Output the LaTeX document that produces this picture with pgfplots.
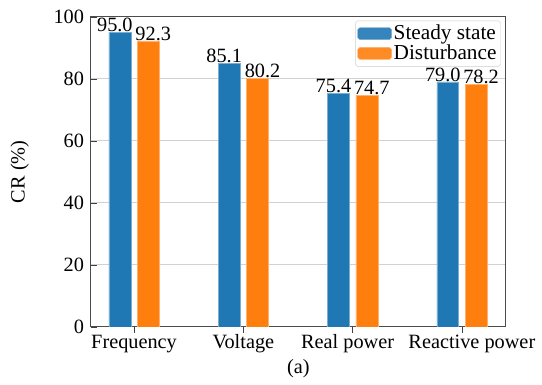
\documentclass[border=0pt]{standalone}
\usepackage{pgfplots}
\pgfplotsset{compat=1.18}
\usepackage{fontspec}
\setmainfont{Liberation Serif}
\definecolor{cblue}{HTML}{1F77B4}
\definecolor{corange}{HTML}{FF7F0E}
\newcommand{\fs}{\fontsize{20.5}{24}\selectfont}
\begin{document}
\fs
\begin{tikzpicture}
\path (0,0) rectangle (542bp,376bp);
\begin{axis}[
  at={(91.5bp,47bp)}, anchor=south west,
  scale only axis,
  width=417.5bp, height=312bp,
  xmin=-0.395, xmax=3.4,
  ymin=0, ymax=100,
  xtick={0,1,2,3},
  xticklabels={Frequency,Voltage,\hspace*{-10bp}Real power,\hspace*{20bp}Reactive power},
  ytick={0,20,40,60,80,100},
  ytick pos=left, xtick pos=bottom,
  tick align=inside,
  major tick length=6bp,
  tick style={black!75, line width=0.6bp},
  axis line style={black!70, line width=0.8bp},
  ymajorgrids,
  grid style={gray!35, line width=0.8bp},
  /pgf/number format/assume math mode=true,
  tick label style={font=\fs},
  x tick label style={yshift=5bp},
  every axis y label/.style={at={(axis description cs:0,0.5)}, xshift=-71.5bp, rotate=90, anchor=center},
  ylabel={CR (\%)},
  every axis x label/.style={at={(axis description cs:0.5,0)}, yshift=-42bp, anchor=center},
  xlabel={(a)},
  label style={font=\fs},
  bar width=0.2,
  ybar,
  nodes near coords,
  nodes near coords style={font=\fs, /pgf/number format/fixed, /pgf/number format/fixed zerofill, /pgf/number format/precision=1, /pgf/number format/assume math mode=true, inner ysep=0pt, anchor=south},
  legend style={at={(rel axis cs:0.988,0.988)}, anchor=north east, font=\fontsize{21.5}{25}\selectfont, draw=gray!40, rounded corners=2bp, inner xsep=2bp, inner ysep=2bp, row sep=-2bp, fill=white, fill opacity=0.9, text opacity=1},
  legend cell align=left,
  legend image code/.code={\fill[#1] (0bp,-6bp) rectangle (34bp,6bp);},
]
\addplot[fill=cblue, draw=cblue!60!white, line width=0.4bp, bar shift=-0.13, nodes near coords style={xshift=-5bp}] coordinates {(0,95.0) (1,85.1) (2,75.4) (3,79.0)};
\addplot[fill=corange, draw=corange!60!white, line width=0.4bp, bar shift=0.13, nodes near coords style={xshift=5bp}] coordinates {(0,92.3) (1,80.2) (2,74.7) (3,78.2)};
\legend{Steady state, Disturbance}
\end{axis}
\end{tikzpicture}
\end{document}
